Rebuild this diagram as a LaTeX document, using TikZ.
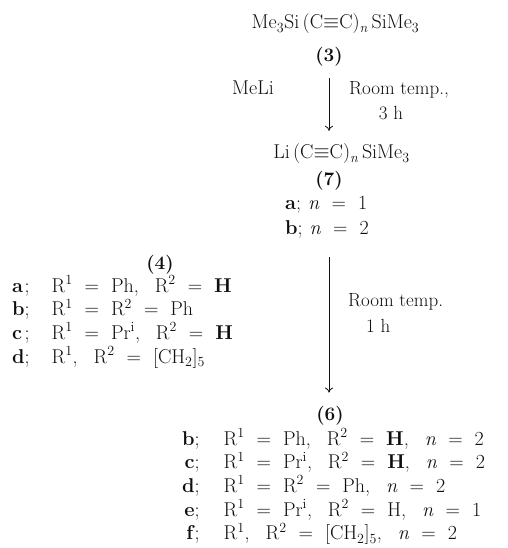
\documentclass[tikz,border=0pt]{standalone}
\usepackage{xcolor}
\usepackage{tikz}
\usetikzlibrary{arrows.meta}
\definecolor{SchemeInk}{gray}{0.06}
\newcommand{\chemeq}{\hspace{0.6em}=\hspace{0.6em}}
\newcommand{\chemsep}{,\hspace{0.8em}}
\newcommand{\Rgrp}[1]{R\textsuperscript{#1}}
\newcommand{\isoPr}{Pr\textsuperscript{i}}
\newcommand{\nval}[1]{\textit{n}\chemeq#1}
\newcommand{\trip}{\ensuremath{\equiv}}
\tikzset{
  scheme/.style={x=1pt,y=-1pt,text=SchemeInk},
  chem/.style={inner sep=0pt,anchor=base,font=\fontsize{19}{23}\selectfont},
  formula/.style={chem,font=\fontsize{20}{23}\selectfont},
  cmpd/.style={chem,font=\fontsize{19}{23}\selectfont\bfseries},
  react/.style={-{To[length=5pt,width=8pt]},line width=0.8pt,draw=SchemeInk},
}

\begin{document}
\begin{tikzpicture}[scheme]
  \useasboundingbox (0,0) rectangle (507,548);

  % starting silane and lithium reagent
  \node[formula] (silane) at (335.5,29)
    {Me\textsubscript{3}Si\,(C\trip C)\textsubscript{\textit{n}}\,SiMe\textsubscript{3}};
  \node[cmpd] (c3) at (329,62) {(3)};
  \node[formula] (meli) at (253,95) {MeLi};
  \node[chem,anchor=base west] (rt1) at (349,95) {Room temp.,};
  \node[chem] (t1) at (391,120) {3 h};
  \node[formula] (lithio) at (341.5,159)
    {Li\,(C\trip C)\textsubscript{\textit{n}}\,SiMe\textsubscript{3}};
  \node[cmpd] (c7) at (329,185) {(7)};
  \node[formula,anchor=base west] (n1) at (285,209) {\textbf{a};\hspace{0.35em}\nval{1}};
  \node[formula,anchor=base west] (n2) at (285,234) {\textbf{b};\hspace{0.35em}\nval{2}};

  % ketones
  \node[cmpd] (c4) at (160,269) {(4)};
  \node[formula,anchor=base west] (ketones) at (12,292)
    {\begin{tabular}[t]{@{}l@{;\hspace{1.1em}}l@{}}
     \textbf{a} & \Rgrp1\chemeq Ph\chemsep\Rgrp2\chemeq\textbf{H}\\
     \textbf{b} & \Rgrp1\chemeq\Rgrp2\chemeq Ph\\
     \textbf{c} & \Rgrp1\chemeq\isoPr\chemsep\Rgrp2\chemeq\textbf{H}\\
     \textbf{d} & \Rgrp1\chemsep\Rgrp2\chemeq[CH\textsubscript{2}]\textsubscript{5}
     \end{tabular}};
  \node[chem,anchor=base west] (rt2) at (348,306) {Room temp.};
  \node[chem,anchor=base west] (t2) at (366,332) {1 h};

  % products
  \node[cmpd] (c6) at (330,420) {(6)};
  \node[formula,anchor=base west] (products) at (182,445)
    {\begin{tabular}[t]{@{}r@{;\hspace{1.2em}}l@{}}
     \textbf{b} & \Rgrp1\chemeq Ph\chemsep\Rgrp2\chemeq\textbf{H}\chemsep\nval{2}\\
     \textbf{c} & \Rgrp1\chemeq\isoPr\chemsep\Rgrp2\chemeq\textbf{H}\chemsep\nval{2}\\
     \textbf{d} & \Rgrp1\chemeq\Rgrp2\chemeq Ph\chemsep\nval{2}\\
     \textbf{e} & \Rgrp1\chemeq\isoPr\chemsep\Rgrp2\chemeq H\chemsep\nval{1}\\
     \textbf{f} & \Rgrp1\chemsep\Rgrp2\chemeq[CH\textsubscript{2}]\textsubscript{5}\chemsep\nval{2}
     \end{tabular}};

  \draw[react,shorten <=11pt,shorten >=13pt] (c3.south) -- (c3.south |- lithio.north);
  \draw[react,shorten <=19pt,shorten >=13pt] (c7 |- n2.south) -- (c7 |- c6.north);
\end{tikzpicture}
\end{document}
